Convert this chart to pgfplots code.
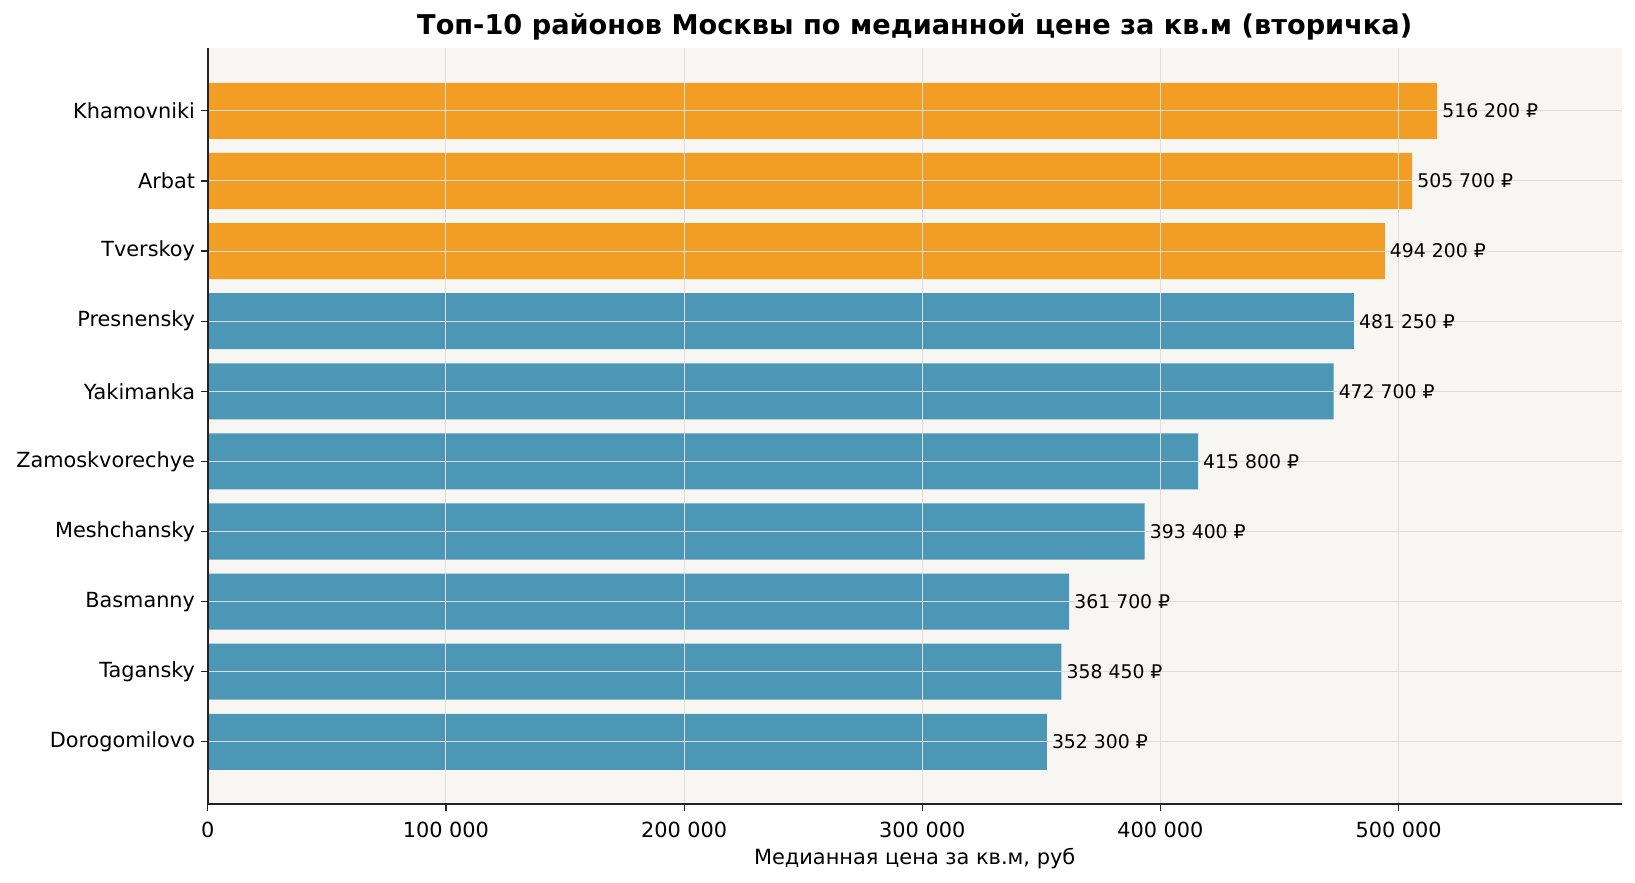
\documentclass[border=0pt]{standalone}
\usepackage{pgfplots}
\pgfplotsset{compat=1.18}
\usepackage{fontspec}
\setmainfont{DejaVu Sans}
\definecolor{orangec}{RGB}{242,158,37}
\definecolor{bluec}{RGB}{76,151,182}
\definecolor{bgc}{RGB}{247,246,243}
\definecolor{gridc}{RGB}{221,221,221}
\definecolor{spinec}{RGB}{34,34,34}
\begin{document}
\begin{tikzpicture}
\useasboundingbox (-207.8bp,-78.8bp) rectangle (1427.2bp,804.2bp);
\begin{axis}[
  at={(0,0)}, anchor=south west,
  scale only axis, width=1413.7bp, height=755.7bp,
  xmin=0, xmax=593630, ymin=-0.89, ymax=9.89,
  scaled x ticks=false,
  xbar, bar width=0.8, bar shift=0pt,
  axis background/.style={fill=bgc},
  axis x line*=bottom, axis y line*=left,
  axis line style={-, draw=spinec, line width=1.6bp},
  axis on top,
  grid=major, major grid style={draw=gridc, line width=1bp},
  tick align=outside, major tick length=7bp,
  tick style={draw=spinec, line width=1.2bp},
  xtick={0,100000,200000,300000,400000,500000},
  xticklabels={0,100 000,200 000,300 000,400 000,500 000},
  ytick={0,1,2,3,4,5,6,7,8,9},
  yticklabels={Dorogomilovo,Tagansky,Basmanny,Meshchansky,Zamoskvorechye,Yakimanka,Presnensky,Tverskoy,Arbat,Khamovniki},
  ticklabel style={font=\fontsize{20.9}{24}\selectfont, text=black, inner sep=0pt},
  xticklabel style={anchor=base, yshift=-26bp},
  yticklabel style={anchor=east, xshift=-5.6bp},
  xlabel={Медианная цена за кв.м, руб},
  xlabel style={at={(axis description cs:0.5,0)}, anchor=base, yshift=-60bp, font=\fontsize{21}{24}\selectfont, inner sep=0pt},
  title={Топ-10 районов Москвы по медианной цене за кв.м (вторичка)},
  title style={at={(axis description cs:0.5,1)}, anchor=base, yshift=8.5bp, font=\bfseries\fontsize{27.3}{32}\selectfont, inner sep=0pt},
  point meta=x,
  nodes near coords={\pgfmathprintnumber[fixed,precision=0,1000 sep={~},assume math mode=true]{\pgfplotspointmeta}~₽},
  every node near coord/.style={anchor=west, inner sep=0pt, xshift=5bp, font=\fontsize{18.9}{22}\selectfont, text=black},
]
\addplot[fill=orangec, draw=none] coordinates {(516200,9) (505700,8) (494200,7)};
\addplot[fill=bluec, draw=none] coordinates {(481250,6) (472700,5) (415800,4) (393400,3) (361700,2) (358450,1) (352300,0)};
\end{axis}
\end{tikzpicture}
\end{document}
